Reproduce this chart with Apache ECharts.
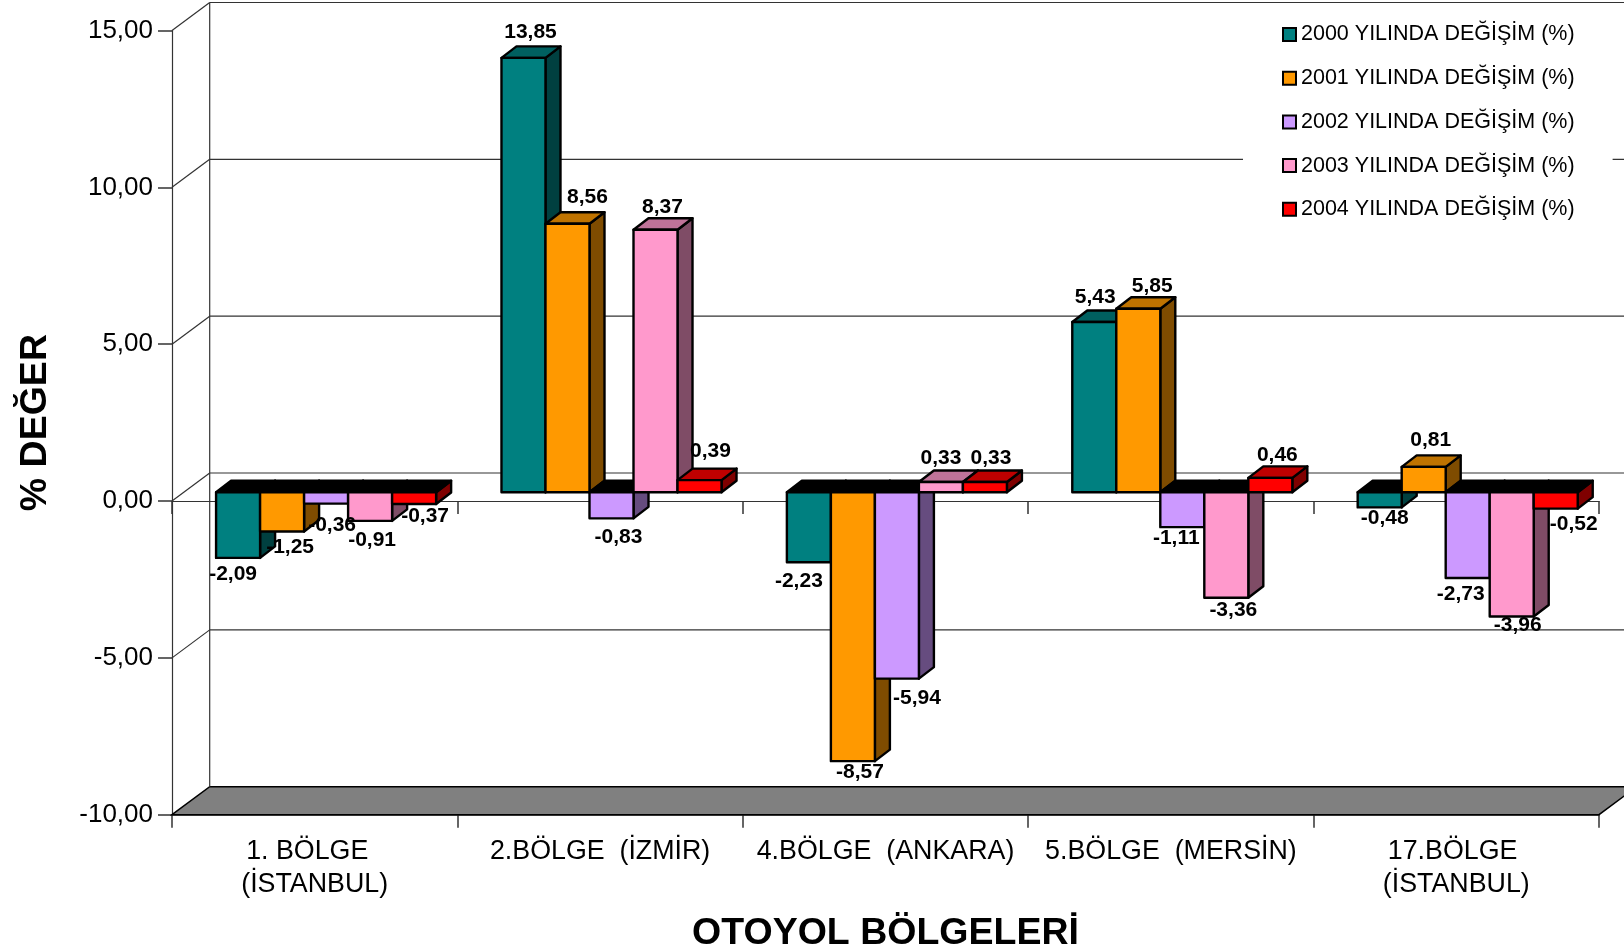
<!DOCTYPE html>
<html>
<head>
<meta charset="utf-8">
<script src="https://cdn.jsdelivr.net/npm/echarts@6/dist/echarts.min.js"></script>
<style>html,body{margin:0;padding:0;background:#fff}#c{width:1624px;height:951px}</style>
</head>
<body>
<div id="c"></div>
<script>
const categories = ['1. BÖLGE  \n(İSTANBUL)', '2.BÖLGE  (İZMİR)', '4.BÖLGE  (ANKARA)', '5.BÖLGE  (MERSİN)', '17.BÖLGE \n(İSTANBUL)'];
const seriesNames = ['2000 YILINDA DEĞİŞİM (%)', '2001 YILINDA DEĞİŞİM (%)', '2002 YILINDA DEĞİŞİM (%)', '2003 YILINDA DEĞİŞİM (%)', '2004 YILINDA DEĞİŞİM (%)'];
const values2000 = [-2.09, 13.85, -2.23, 5.43, -0.48];
const values2001 = [-1.25, 8.56, -8.57, 5.85, 0.81];
const values2002 = [-0.36, -0.83, -5.94, -1.11, -2.73];
const values2003 = [-0.91, 8.37, 0.33, -3.36, -3.96];
const values2004 = [-0.37, 0.39, 0.33, 0.46, -0.52];
const yTicks = [-10, -5, 0, 5, 10, 15];

const allValues = [values2000, values2001, values2002, values2003, values2004];
const faces = [
  { front: '#008080', top: '#006060', side: '#004040' },
  { front: '#FF9900', top: '#BF7300', side: '#7F4C00' },
  { front: '#CC99FF', top: '#9973BF', side: '#664C7F' },
  { front: '#FF99CC', top: '#BF7399', side: '#7F4C66' },
  { front: '#FF0000', top: '#BF0000', side: '#7F0000' }
];
// Hand placement of value labels relative to the bar end, as in the reference
const labelNudge = [
  [[-5, 16.5], [7, -26], [-10, 18.5], [1, -24.5], [5, 10.5]],
  [[8, 15.5], [20, -26.5], [7, 11.5], [14, -22.5], [7, -26.5]],
  [[6, 21.5], [7, 18.5], [20, 19.5], [-6, 11.5], [-7, 16.5]],
  [[2, 19.5], [7, -22.5], [0, -23.5], [7, 12.5], [6, 8.5]],
  [[11, 12.5], [11, -28.5], [6, -23.5], [7, -22.5], [18, 15.5]]
];

const WALL_DX = 37.7, WALL_DY = 28;
const PLANE_DX = 11.4, PLANE_DY = 8.7;
const BAR_DX = 15, BAR_DY = 11.5;
const BAR_FRACTION = 0.1542;
const FONT = '"Liberation Sans", Arial, sans-serif';
const fmt = v => v.toFixed(2).replace('.', ',');

function poly(points, fill, z2) {
  return {
    type: 'polygon', z2: z2 || 0,
    shape: { points },
    style: { fill, stroke: '#000', lineWidth: 2.4, lineJoin: 'round' }
  };
}

function renderBar(seriesIdx, params, api) {
  const cat = api.value(0), val = api.value(1);
  const c0 = api.coord([cat, 0]), c1 = api.coord([cat, val]);
  const band = api.size([1, 0])[0];
  const w = band * BAR_FRACTION;
  const x0 = c0[0] + PLANE_DX - 2.5 * w + seriesIdx * w;
  const x1 = x0 + w;
  const y0 = c0[1] - PLANE_DY;
  const yv = c1[1] - PLANE_DY;
  const f = faces[seriesIdx];
  const topY = Math.min(y0, yv), botY = Math.max(y0, yv);
  const n = labelNudge[seriesIdx][cat];
  const children = [
    poly([[x1, topY], [x1 + BAR_DX, topY - BAR_DY], [x1 + BAR_DX, botY - BAR_DY], [x1, botY]], f.side),
    poly([[x0, topY], [x0 + BAR_DX, topY - BAR_DY], [x1 + BAR_DX, topY - BAR_DY], [x1, topY]], val < 0 ? '#000' : f.top),
    poly([[x0, topY], [x1, topY], [x1, botY], [x0, botY]], f.front),
    {
      type: 'text', z2: 100, silent: true,
      style: {
        text: fmt(val),
        x: (x0 + x1) / 2 + n[0],
        y: (val < 0 ? botY : topY) + n[1],
        align: 'center', verticalAlign: 'middle',
        fill: '#000', font: 'bold 21px ' + FONT
      }
    }
  ];
  return { type: 'group', children };
}

function renderWalls(params, api) {
  const v = api.value(0);
  const r = params.coordSys;
  const y = api.coord([0, v])[1];
  const xL = r.x, xR = r.x + r.width;
  const line = (a, b, c, d, col, lw) => ({
    type: 'line', shape: { x1: a, y1: b, x2: c, y2: d },
    style: { stroke: col || '#333', lineWidth: lw || 1.2 }
  });
  const children = [];
  if (v === yTicks[0]) {
    children.push({
      type: 'polygon',
      shape: { points: [[xL, y], [xL + WALL_DX, y - WALL_DY], [xR + WALL_DX, y - WALL_DY], [xR, y]] },
      style: { fill: '#808080', stroke: '#000', lineWidth: 1.5 }
    });
    children.push(line(xL + WALL_DX, r.y - WALL_DY, xL + WALL_DX, y - WALL_DY));
  } else {
    children.push(line(xL, y, xL + WALL_DX, y - WALL_DY));
    children.push(line(xL + WALL_DX, y - WALL_DY, xR + WALL_DX, y - WALL_DY));
  }
  return { type: 'group', children };
}

const series = [{
  type: 'custom', name: 'walls', silent: true, z: 1, coordinateSystem: 'cartesian2d',
  xAxisIndex: 0, yAxisIndex: 0, encode: { y: 0 }, clip: false,
  data: yTicks.map(v => [v]),
  renderItem: renderWalls
}];
allValues.forEach((vals, s) => {
  series.push({
    type: 'custom', name: seriesNames[s], z: 3, coordinateSystem: 'cartesian2d',
    xAxisIndex: 0, yAxisIndex: 0, encode: { x: 0, y: 1 }, clip: false,
    itemStyle: { color: faces[s].front },
    data: vals.map((v, i) => [i, v]),
    renderItem: (p, a) => renderBar(s, p, a)
  });
});

const axisLineStyle = { color: '#333', width: 1.5 };
const chart = echarts.init(document.getElementById('c'), null, { renderer: 'canvas' });
chart.setOption({
  animation: false,
  backgroundColor: '#fff',
  textStyle: { fontFamily: FONT },
  grid: { left: 172, right: 25, top: 30.5, bottom: 136.3, outerBoundsMode: 'none' },
  legend: {
    data: seriesNames, orient: 'vertical', left: 1243, top: 4,
    padding: [19.5, 38, 11, 39],
    backgroundColor: '#fff', z: 2,
    itemWidth: 13, itemHeight: 13, itemGap: 21.7, icon: 'rect',
    selectedMode: false,
    itemStyle: { borderColor: '#000', borderWidth: 2 },
    textStyle: { fontFamily: FONT, fontSize: 21.5, color: '#000', lineHeight: 22 }
  },
  xAxis: [{
    type: 'category', data: categories, position: 'bottom',
    axisLine: { onZero: false, lineStyle: axisLineStyle },
    axisTick: { show: true, length: 13, alignWithLabel: false, interval: 0, lineStyle: axisLineStyle },
    axisLabel: { interval: 0, margin: 20, fontFamily: FONT, fontSize: 26.8, color: '#000', lineHeight: 33.5 },
    splitLine: { show: false },
    name: 'OTOYOL BÖLGELERİ', nameLocation: 'middle', nameGap: 100,
    nameTextStyle: { fontFamily: FONT, fontSize: 37.5, fontWeight: 'bold', color: '#000' }
  }, {
    type: 'category', data: categories, position: 'bottom',
    axisLine: { onZero: true, lineStyle: { color: '#333', width: 1.2 } },
    axisTick: { show: true, length: 13, interval: 0, lineStyle: axisLineStyle },
    axisLabel: { show: false },
    splitLine: { show: false }
  }],
  yAxis: {
    type: 'value', min: -10, max: 15, interval: 5,
    axisLine: { show: true, onZero: false, lineStyle: { color: '#333', width: 1.2 } },
    axisTick: { show: true, length: 14, lineStyle: axisLineStyle },
    axisLabel: { margin: 19, fontFamily: FONT, fontSize: 26, color: '#000', padding: [2, 0, 0, 0], formatter: v => fmt(v) },
    splitLine: { show: false },
    name: '% DEĞER', nameLocation: 'middle', nameGap: 117, nameRotate: 90,
    nameTextStyle: { fontFamily: FONT, fontSize: 37.5, fontWeight: 'bold', color: '#000' }
  },
  series
});
</script>
</body>
</html>
